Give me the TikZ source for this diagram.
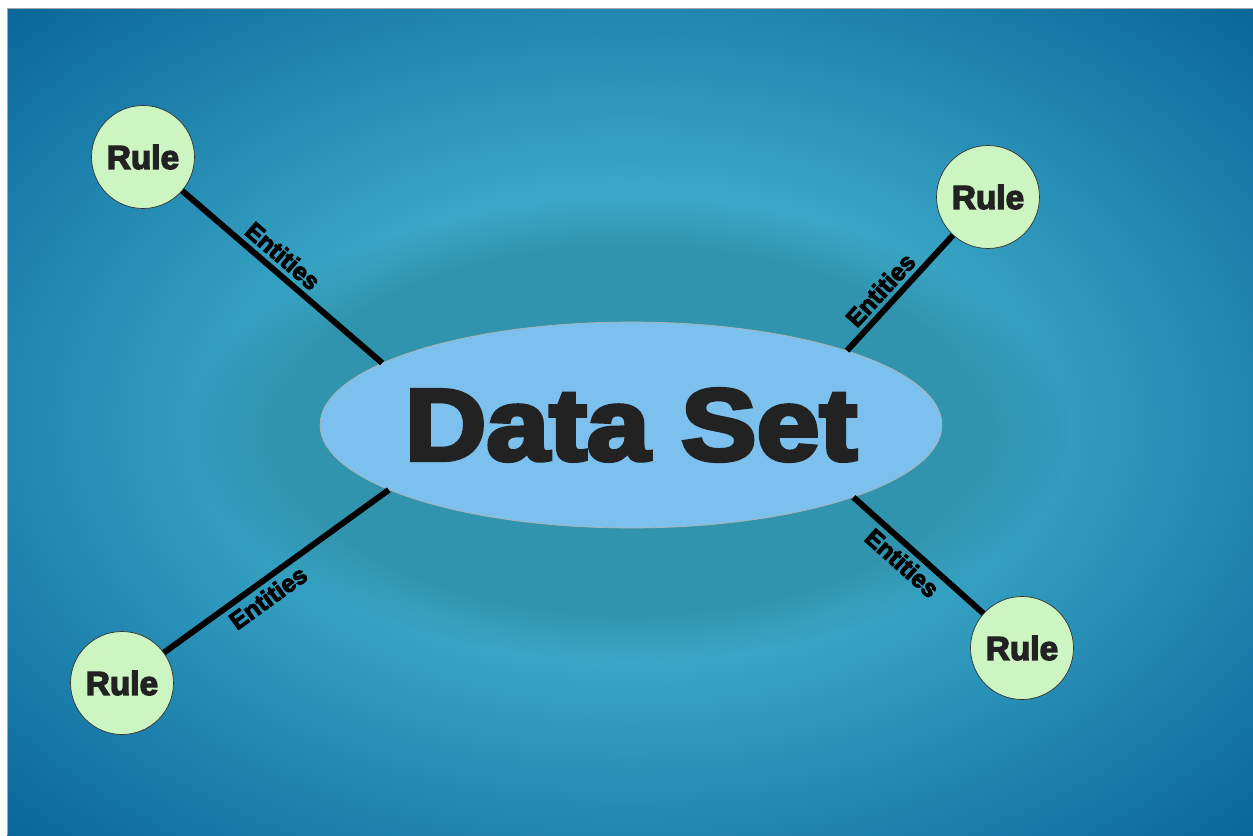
\documentclass[tikz,border=0pt]{standalone}
\usepackage{fontspec}
\setmainfont{Liberation Sans}
\newfontfamily\heavyfont{Liberation Sans}[UprightFont={* Bold}, FakeBold=4]
\usetikzlibrary{shapes.geometric, fadings}
\definecolor{Bgdark}{RGB}{4,94,150}
\definecolor{Bglight}{RGB}{58,168,198}
\definecolor{Cset}{RGB}{124,192,238}
\definecolor{Crule}{RGB}{204,245,194}
\definecolor{Txt}{RGB}{34,34,34}
\pgfdeclareradialshading{bgwave}{\pgfpoint{0bp}{0bp}}{%
  color(0bp)=(Bglight); color(14bp)=(Bglight);
  color(38bp)=(Bgdark); color(75bp)=(Bgdark)}
\tikzset{
  setnode/.style  = {ellipse, draw=gray!60, fill=Cset, thin,
                     minimum width=12.44cm, minimum height=4.12cm,
                     inner sep=0pt},
  settext/.style  = {text=Txt, inner sep=0pt,
                     font=\heavyfont\fontsize{58}{58}\selectfont},
  rulenode/.style = {circle, draw=black!80, fill=Crule, thin,
                     minimum size=2.06cm, inner sep=0pt, text=Txt,
                     font=\heavyfont\fontsize{19}{19}\selectfont},
  link/.style     = {line width=0.12cm, black},
  lbl/.style      = {sloped, inner sep=2.5pt, text=black,
                     font=\heavyfont\fontsize{14}{14}\selectfont},
}

\begin{document}
\begin{tikzpicture}[x=0.02cm, y=-0.02cm]
\useasboundingbox (0,0) rectangle (1253,835);

%% background panel
\fill[white] (0,0) rectangle (1253,835);
\shade[shading=bgwave] (7,8) rectangle (1253,835);
\fill[black!70!teal, opacity=0.15, path fading=circle with fuzzy edge 20 percent]
  (630,430) ellipse [x radius=440, y radius=230];
\draw[gray!70, thin] (7,835) -- (7,8) -- (1253,8);

%% data set and rules
\node[setnode, label={[settext]center:{\scalebox{1.11}[1]{Data Set}}}]
  (dataset) at (631,425) {};

\node[rulenode] (ruleA) at (143,157)  {Rule};
\node[rulenode] (ruleB) at (988,197)  {Rule};
\node[rulenode] (ruleC) at (122,683)  {Rule};
\node[rulenode] (ruleD) at (1022,648) {Rule};

%% links
\draw[link] (ruleA) -- (dataset.166)
  node[lbl, pos=0.45, above] {Entities};
\draw[link] (dataset.19) -- (ruleB)
  node[lbl, pos=0.43, above] {Entities};
\draw[link] (ruleC) -- (dataset.195)
  node[lbl, pos=0.42, below] {Entities};
\draw[link] (dataset.342) -- (ruleD)
  node[lbl, pos=0.46, below] {Entities};

\end{tikzpicture}
\end{document}
